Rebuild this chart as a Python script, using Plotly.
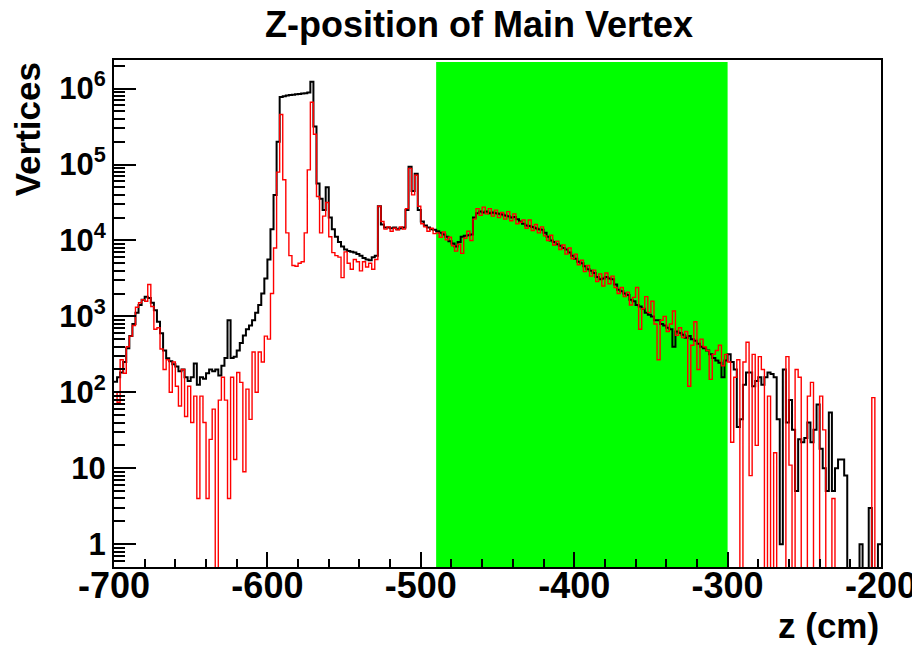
import numpy as np
import plotly.graph_objects as go

# ---------------- data ----------------
z_min, z_max, bin_width = -700, -200, 2

all_vertices = [
    138, 158, 182, 251, 380, 550, 794, 1120, 1410, 1660,
    1820, 1740, 1510, 1200, 850, 600, 355, 280, 257, 234,
    219, 190, 200, 158, 141, 158, 240, 126, 158, 151,
    178, 200, 190, 200, 166, 224, 282, 890, 282, 295,
    355, 447, 562, 676, 759, 891, 1120, 1410, 2000, 3160,
    5620, 14100, 39800, 200000, 776000, 794000, 813000, 822000, 832000, 841000,
    851000, 861000, 871000, 891000, 1230000, 316000, 56200, 35500, 25100, 50100,
    20000, 14100, 11200, 9550, 8320, 7590, 7240, 7080, 6920, 6610,
    6310, 5890, 5620, 5500, 6030, 6310, 28200, 16200, 14800, 14800,
    14500, 14800, 14100, 14500, 14800, 25100, 93300, 44700, 75900, 25100,
    17800, 15800, 14800, 14100, 13800, 13200, 12600, 12000, 11200, 9770,
    9120, 8320, 9550, 11200, 11500, 11700, 12000, 20000, 22900, 24000,
    23400, 24000, 22900, 23400, 22900, 22400, 21900, 21400, 20900, 20000,
    20400, 19100, 17800, 16600, 15800, 15500, 15100, 14500, 14100, 13800,
    12600, 11200, 10000, 9550, 8910, 8510, 7940, 7590, 6920, 6310,
    5750, 5250, 5010, 4570, 4170, 3980, 3720, 3310, 3090, 3160,
    3310, 3160, 3090, 2630, 2240, 2140, 2000, 1910, 1660, 1580,
    1410, 1350, 1260, 1120, 1050, 1000, 891, 891, 794, 759,
    708, 676, 398, 631, 603, 575, 525, 550, 501, 479,
    437, 398, 380, 355, 316, 282, 263, 245, 158, 263,
    316, 251, 200, 35, 44, 126, 182, 182, 120, 141,
    158, 126, 158, 182, 174, 158, 44, 1, 200, 40,
    79, 32, 5, 24, 22, 25, 40, 22, 32, 69,
    18, 10, 5, 54, 5, 10, 13, 13, 8, 0,
    0, 0, 0, 1, 0, 0, 3, 0, 0, 1,
]

selected_vertices = [
    100, 74, 269, 178, 398, 550, 759, 1320, 1510, 1660,
    1580, 2630, 1350, 676, 708, 372, 200, 269, 100, 251,
    120, 66, 200, 48, 120, 40, 89, 4, 89, 40,
    4, 24, 60, 0, 79, 158, 79, 4, 158, 13,
    182, 135, 9, 110, 44, 339, 100, 339, 251, 550,
    501, 2000, 7940, 79400, 457000, 63100, 12600, 6310, 4680, 4570,
    5010, 5250, 12600, 85100, 661000, 251000, 38000, 12600, 20900, 31600,
    11200, 6920, 6310, 6030, 3240, 7080, 5010, 4170, 5620, 5250,
    3980, 5250, 4470, 5010, 4170, 5620, 28200, 17800, 14100, 15100,
    13200, 14500, 13800, 15100, 14100, 26300, 89100, 39800, 72400, 28200,
    16600, 15100, 13200, 14500, 12300, 12600, 11000, 12900, 10200, 11000,
    8510, 7240, 8910, 6760, 10700, 13200, 10000, 19100, 26300, 21400,
    27500, 22400, 26300, 20900, 25100, 20000, 23400, 19100, 24000, 18200,
    22400, 16600, 17400, 18600, 14500, 18600, 13500, 16200, 12600, 15100,
    11500, 10000, 11700, 8710, 9770, 7590, 8710, 6610, 7940, 5750,
    6610, 4790, 5500, 3890, 4680, 3390, 4070, 2880, 3630, 2510,
    3720, 2690, 3390, 2400, 2000, 2400, 1820, 2090, 1410, 1780,
    2400, 676, 1260, 1820, 1120, 1580, 794, 269, 891, 1000,
    631, 794, 1180, 562, 708, 525, 631, 120, 417, 851,
    200, 501, 398, 355, 148, 316, 355, 417, 224, 316,
    251, 22, 158, 269, 0, 251, 457, 8, 316, 20,
    295, 200, 0, 89, 0, 16, 0, 0, 0, 295,
    11, 0, 200, 158, 0, 0, 89, 135, 0, 0,
    89, 32, 0, 0, 4, 0, 0, 0, 0, 0,
    0, 0, 0, 0, 0, 0, 0, 85, 0, 0,
]

selection_window = [-490, -300]

x_tick_vals = [-700, -600, -500, -400, -300, -200]
x_tick_text = ["-700", "-600", "-500", "-400", "-300", "-200"]
y_tick_vals = [1, 10, 100, 1000, 10000, 100000, 1000000]
y_tick_text = ["1", "10", "10<sup>2</sup>", "10<sup>3</sup>", "10<sup>4</sup>",
               "10<sup>5</sup>", "10<sup>6</sup>"]

title_text = "Z-position of Main Vertex"
x_title = "z (cm)"
y_title = "Vertices"

# ---------------- figure ----------------
edges = np.arange(z_min, z_max + bin_width, bin_width)
FLOOR = 1e-3  # empty bins drop below the log axis, like ROOT


def step_y(counts):
    c = np.array(counts, dtype=float)
    c = np.where(c > 0, c, FLOOR)
    return np.append(c, c[-1])


FONT = "Liberation Sans, Arial, Helvetica, sans-serif"

fig = go.Figure()
fig.add_trace(go.Scatter(
    x=edges, y=step_y(all_vertices), mode="lines", line_shape="hv",
    line=dict(color="black", width=2), name="all", showlegend=False,
    hoverinfo="skip"))
fig.add_trace(go.Scatter(
    x=edges, y=step_y(selected_vertices), mode="lines", line_shape="hv",
    line=dict(color="#ff0000", width=1.4), name="selected", showlegend=False,
    hoverinfo="skip"))

fig.add_shape(type="rect", xref="x", yref="paper",
              x0=selection_window[0], x1=selection_window[1], y0=0, y1=0.996,
              fillcolor="#00ff00", line=dict(width=0), layer="below")

minor_y = [m * 10 ** e for e in range(0, 7) for m in range(2, 10)]
minor_y = [v for v in minor_y if v < 2.4e6] + [0.6, 0.7, 0.8, 0.9]

# the page body adds an 8px offset; margins compensate so the frame
# lands at x 114..881, y 60..567 of the window
fig.update_layout(
    width=920, height=645,
    margin=dict(l=106, r=47, t=52, b=86, autoexpand=False),
    paper_bgcolor="white", plot_bgcolor="white",
    font=dict(family=FONT, color="black"),
    title=dict(text=title_text, x=0.512, xanchor="center", xref="container",
               y=1 - 16 / 645, yanchor="middle", yref="container",
               font=dict(size=36, weight="bold")),
    xaxis=dict(range=[z_min, z_max], showgrid=False, zeroline=False,
               automargin=False,
               showline=True, linecolor="black", linewidth=2, mirror=True,
               ticks="inside", ticklen=15, tickwidth=1.5, tickcolor="black",
               tickvals=x_tick_vals, ticktext=x_tick_text,
               ticklabelstandoff=-14,
               tickfont=dict(size=36, weight="bold"),
               minor=dict(ticks="inside", ticklen=8, tickwidth=1.5,
                          tickcolor="black", dtick=20, tick0=-700)),
    yaxis=dict(type="log", range=[np.log10(0.5), 6.377], showgrid=False,
               automargin=False,
               zeroline=False, showline=True, linecolor="black", linewidth=2,
               mirror=True, ticks="inside", ticklen=22, tickwidth=1.5,
               tickcolor="black", tickvals=y_tick_vals, ticktext=y_tick_text,
               ticklabelstandoff=0,
               tickfont=dict(size=31, weight="bold"),
               minor=dict(ticks="inside", ticklen=11, tickwidth=1.5,
                          tickcolor="black", tickvals=minor_y)),
    annotations=[
        dict(text=x_title, xref="paper", yref="paper", x=1.0, y=-0.116,
             xanchor="right", yanchor="middle", showarrow=False,
             font=dict(size=35, weight="bold")),
        dict(text=y_title, xref="paper", yref="paper", x=-0.113, y=1.0,
             xanchor="center", yanchor="top", textangle=-90, showarrow=False,
             font=dict(size=35, weight="bold")),
    ],
)

fig.write_html("out.html")
